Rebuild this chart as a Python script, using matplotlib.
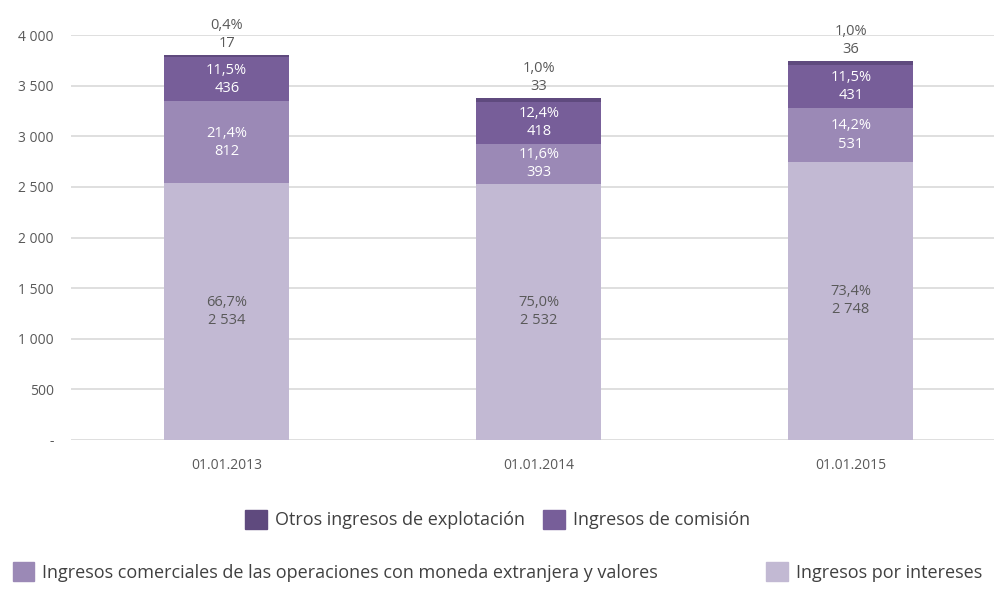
import numpy as np
import matplotlib.pyplot as plt
from matplotlib.patches import Patch

fechas = ["01.01.2013", "01.01.2014", "01.01.2015"]
intereses = [2534, 2532, 2748]
comerciales = [812, 393, 531]
comision = [436, 418, 431]
otros = [17, 33, 36]
pct_intereses = ["66,7%", "75,0%", "73,4%"]
pct_comerciales = ["21,4%", "11,6%", "14,2%"]
pct_comision = ["11,5%", "12,4%", "11,5%"]
pct_otros = ["0,4%", "1,0%", "1,0%"]

nombres = ["Ingresos por intereses",
           "Ingresos comerciales de las operaciones con moneda extranjera y valores",
           "Ingresos de comisión",
           "Otros ingresos de explotación"]
colores = ["#c2b9d3", "#9b89b6", "#775e99", "#5f4a7e"]

plt.rcParams['font.family'] = ['Open Sans', 'DejaVu Sans']
gris = "#595959"

def fmt(v):
    return f"{v:,}".replace(",", " ")

fig = plt.figure(figsize=(9.95, 5.96), dpi=100)
ax = fig.add_axes([0.071, 0.262, 0.941, 0.679])

x = np.arange(len(fechas))
ancho = 0.4
series = [intereses, comerciales, comision, otros]
pcts = [pct_intereses, pct_comerciales, pct_comision, pct_otros]
base = np.zeros(len(fechas))
for i, (vals, col) in enumerate(zip(series, colores)):
    ax.bar(x, vals, ancho, bottom=base, color=col, zorder=3)
    for j, v in enumerate(vals):
        if i < 3:
            tc = gris if i == 0 else "white"
            ax.text(x[j], base[j] + v / 2, f"{pcts[i][j]}\n{fmt(v)}", ha="center", va="center",
                    color=tc, fontsize=10.5, linespacing=1.3, zorder=4)
        else:
            ax.text(x[j], base[j] + v + 40, f"{pcts[i][j]}\n{fmt(v)}", ha="center", va="bottom",
                    color=gris, fontsize=10.5, linespacing=1.3, clip_on=False)
    base += np.array(vals)

ax.set_xlim(-0.5, 2.5)
ax.set_ylim(0, 4000)
ax.set_yticks(range(0, 4001, 500))
ax.set_yticklabels(["-"] + [fmt(v) for v in range(500, 4001, 500)])
ax.set_xticks(x)
ax.set_xticklabels(fechas)
ax.tick_params(length=0, colors=gris, labelsize=10)
ax.tick_params(axis="x", pad=13)
ax.tick_params(axis="y", pad=12)
ax.grid(axis="y", color="#d9d9d9", linewidth=1.2, zorder=0)
for s in ax.spines.values():
    s.set_visible(False)

h = [Patch(color=c) for c in colores]
leg1 = fig.legend([h[3], h[2]], [nombres[3], nombres[2]], loc="center", bbox_to_anchor=(0.5, 0.128),
                  ncol=2, frameon=False, fontsize=13, handlelength=1.2, handleheight=1.2,
                  handletextpad=0.45, columnspacing=1.0, labelcolor="#404040")
leg2 = fig.legend([h[1], h[0]], [nombres[1], nombres[0]], loc="center", bbox_to_anchor=(0.5, 0.04),
                  ncol=2, frameon=False, fontsize=13, handlelength=1.2, handleheight=1.2,
                  handletextpad=0.45, columnspacing=6.0, labelcolor="#404040")

fig.savefig("out.png", dpi=100)
